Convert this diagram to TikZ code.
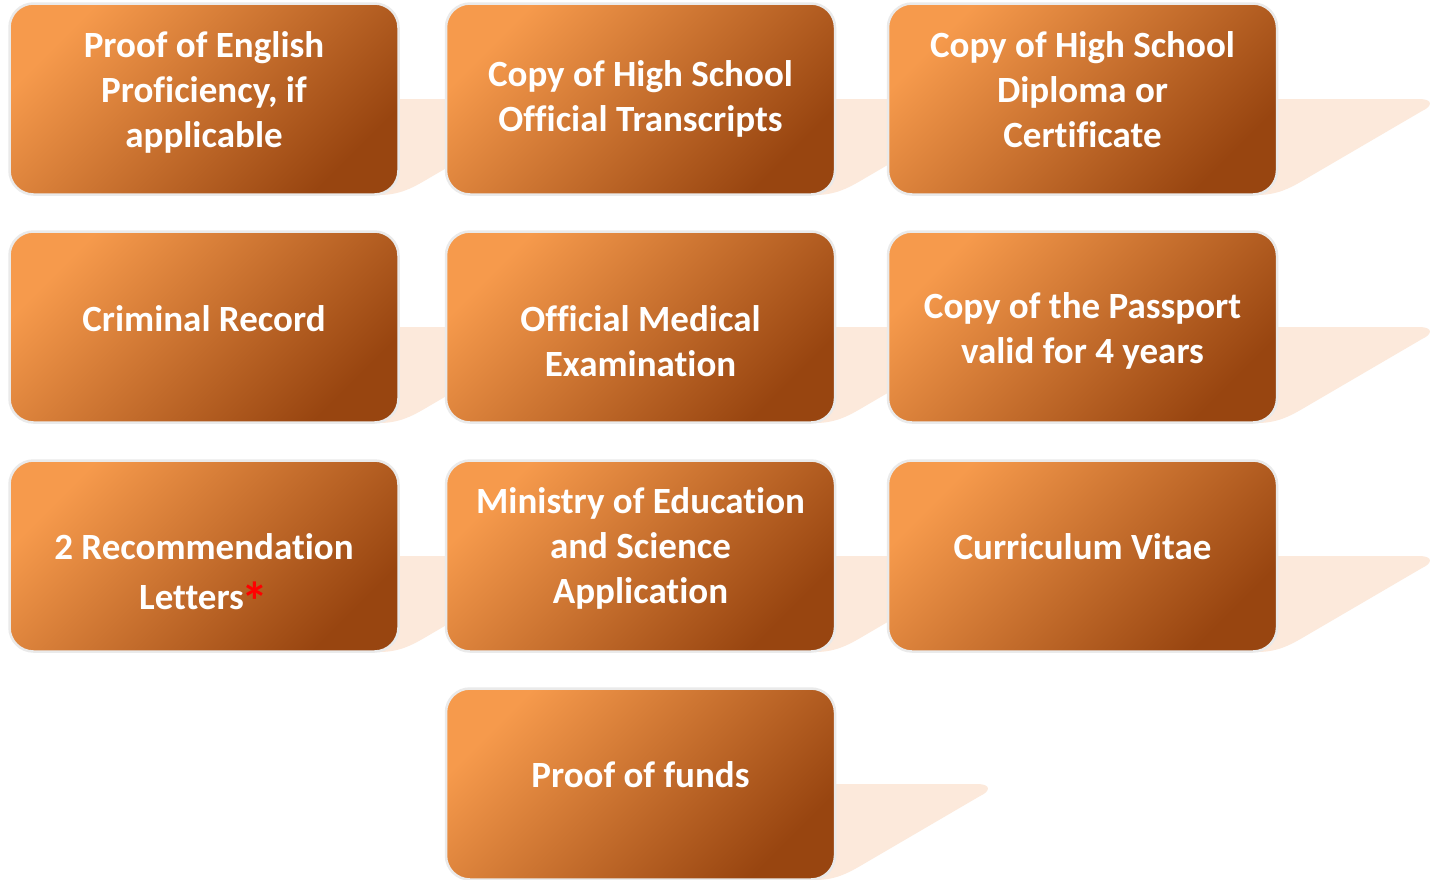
\documentclass[tikz,border=0pt]{standalone}
\usepackage{fontspec}
\setmainfont[Ligatures=NoCommon]{Carlito}
\definecolor{boxL}{HTML}{F69A4C}
\definecolor{boxM}{HTML}{D8803B}
\definecolor{boxD}{HTML}{984510}
\definecolor{shad}{HTML}{FCE9DB}
\definecolor{rim}{HTML}{EAEAEA}
\newcommand{\docshadow}[3]{%
  \fill[shad] ({#1-20},#2) -- ({#1+142},#2)
    .. controls ({#1+156},#2) and ({#1+156},{#2+7}) .. ({#1+145},{#2+12})
    -- ({#1+32},{#2+78})
    .. controls ({#1+15},{#2+88}) and ({#1+2},#3) .. ({#1-20},#3) -- cycle;}
\tikzset{
  docbox/.style={rounded corners=24pt, minimum width=389pt, minimum height=191pt,
    draw=rim, line width=2.5pt, top color=boxL, middle color=boxM, bottom color=boxD,
    shading angle=45, inner sep=0pt},
  doctxt/.style={text=white, font=\bfseries\fontsize{37}{45}\selectfont,
    align=center, inner sep=0pt}
}
\begin{document}
\begin{tikzpicture}[x=1pt,y=-1pt]
\useasboundingbox (0,0) rectangle (1432,879);
\clip (0,0) rectangle (1432,879);
\fill[white] (0,0) rectangle (1432,879);
% shadows
\docshadow{399}{99}{195}
\docshadow{835}{99}{195}
\docshadow{1277}{99}{195}
\docshadow{399}{327}{423}
\docshadow{835}{327}{423}
\docshadow{1277}{327}{423}
\docshadow{399}{556}{652}
\docshadow{835}{556}{652}
\docshadow{1277}{556}{652}
\docshadow{835}{784}{880}
% boxes
\node[docbox] (b1) at (204,99) {};
\node[docbox] (b2) at (640.5,99) {};
\node[docbox] (b3) at (1082.5,99) {};
\node[docbox] (b4) at (204,327) {};
\node[docbox] (b5) at (640.5,327) {};
\node[docbox] (b6) at (1082.5,327) {};
\node[docbox] (b7) at (204,556) {};
\node[docbox] (b8) at (640.5,556) {};
\node[docbox] (b9) at (1082.5,556) {};
\node[docbox] (b10) at (640.5,784) {};
% texts
\node[doctxt] (t1) at (204,93) {\strut Proof of English\\Proficiency, if\\applicable\strut};
\node[doctxt] (t2) at (640.5,100) {\strut Copy of High School\\Official Transcripts\strut};
\node[doctxt] (t3) at (1082.5,93) {\strut Copy of High School\\Diploma or\\Certificate\strut};
\node[doctxt] (t4) at (204,322.5) {\strut Criminal Record\strut};
\node[doctxt] (t5) at (640.5,345) {\strut Official Medical\\Examination\strut};
\node[doctxt] (t6) at (1082.5,331.5) {\strut Copy of the Passport\\valid for 4 years\strut};
\node[doctxt] (t7) at (204,575.5) {\strut 2 Recommendation\\[5pt]Letters\kern-2pt\smash{\raisebox{-11pt}{\textcolor{red}{\fontsize{54}{54}\selectfont *}}}\strut};
\node[doctxt] (t8) at (640.5,549.5) {\strut Ministry of Education\\and Science\\Application\strut};
\node[doctxt] (t9) at (1082.5,550.5) {\strut Curriculum Vitae\strut};
\node[doctxt] (t10) at (640.5,778.5) {\strut Proof of funds\strut};
\end{tikzpicture}
\end{document}
